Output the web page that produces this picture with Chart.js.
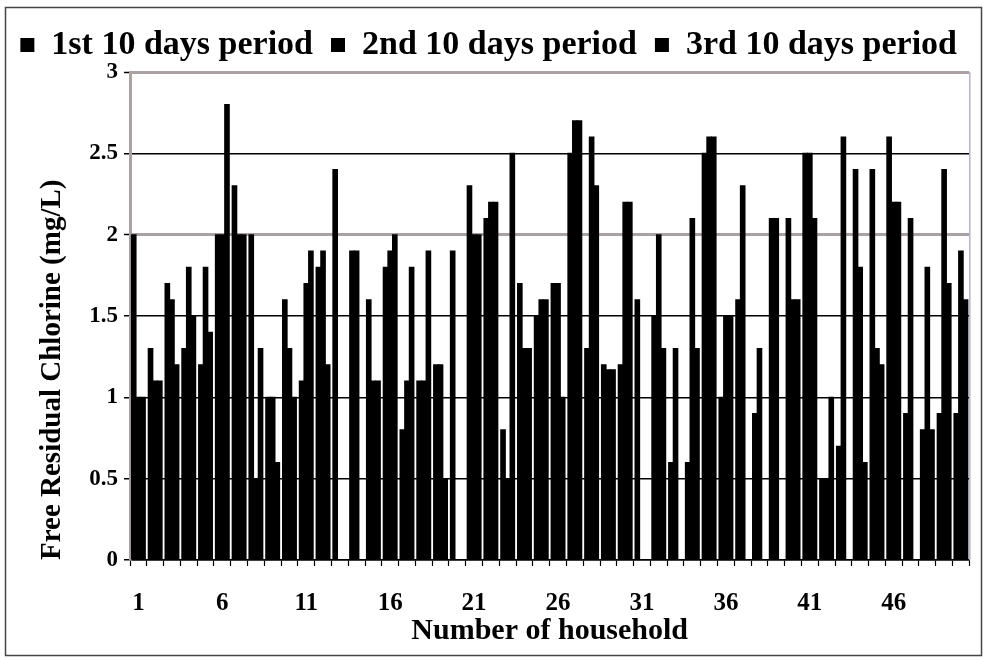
<!DOCTYPE html>
<html>
<head>
<meta charset="utf-8">
<title>Free Residual Chlorine by household</title>
<script src="https://cdn.jsdelivr.net/npm/chart.js@4.4.1/dist/chart.umd.min.js"></script>
<style>
  html, body { margin: 0; padding: 0; background: #fff; }
  #wrap { position: relative; width: 984px; height: 660px; }
  canvas { display: block; }
</style>
</head>
<body>
<div id="wrap"><canvas id="chart" width="984" height="660"></canvas></div>
<script>
// Household numbers along the x axis
const households = [
  '1','2','3','4','5','6','7','8','9','10',
  '11','12','13','14','15','16','17','18','19','20',
  '21','22','23','24','25','26','27','28','29','30',
  '31','32','33','34','35','36','37','38','39','40',
  '41','42','43','44','45','46','47','48','49','50'
];

// Household numbers that carry a visible tick label
const labelledHouseholds = ['1','6','11','16','21','26','31','36','41','46'];

// Free residual chlorine (mg/L), one value per household for each sampling period
const period1 = [
  2.0, 1.3, 1.7, 1.3, 1.2, 2.0, 2.3, 2.0, 1.0, 1.6,
  1.1, 1.8, 2.4, 1.9, 1.6, 1.8, 0.8, 1.1, 1.2, 1.9,
  2.3, 2.1, 0.8, 1.7, 1.5, 1.7, 2.5, 1.3, 1.2, 1.2,
  1.6, 1.5, 0.6, 0.6, 2.5, 1.0, 1.6, 0.9, 2.1, 2.1,
  2.5, 0.5, 0.7, 2.4, 2.4, 2.6, 0.9, 0.8, 0.9, 0.9
];
const period2 = [
  1.0, 1.1, 1.6, 1.8, 1.8, 2.0, 2.0, 0.5, 1.0, 1.3,
  1.7, 1.9, 0.0, 1.9, 1.1, 1.9, 1.1, 1.1, 1.2, 0.0,
  2.0, 2.2, 0.5, 1.3, 1.6, 1.7, 2.7, 2.6, 1.17, 2.2,
  0.0, 2.0, 1.3, 2.1, 2.6, 1.5, 2.3, 1.3, 2.1, 1.6,
  2.5, 0.5, 2.6, 1.8, 1.3, 2.2, 2.1, 1.8, 2.4, 1.9
];
const period3 = [
  1.0, 1.1, 1.2, 1.5, 1.4, 2.8, 2.0, 1.3, 0.6, 1.0,
  1.9, 1.2, 0.0, 0.0, 1.1, 2.0, 1.8, 1.9, 0.5, 0.0,
  2.0, 2.2, 2.5, 1.3, 1.6, 1.0, 2.7, 2.3, 1.17, 2.2,
  0.0, 1.3, 0.0, 1.3, 2.6, 1.5, 0.0, 0.0, 0.0, 1.6,
  2.1, 1.0, 0.0, 0.6, 1.2, 2.2, 0.0, 0.8, 1.7, 1.6
];

const periodNames = ['1st 10 days period', '2nd 10 days period', '3rd 10 days period'];

const SERIF = "'Liberation Serif', 'Times New Roman', serif";
const boldFont = size => ({ family: SERIF, weight: 'bold', size });

// The 2 mg/L and 3 mg/L lines are drawn as grey bands, the rest as thin black rules
const isGreyLine = ctx => ctx.tick && (ctx.tick.value === 2 || ctx.tick.value === 3);

// White page, outer frame and the right edge of the plot box
const framePlugin = {
  id: 'framePlugin',
  beforeDraw(chart) {
    const { ctx, width, height } = chart;
    ctx.save();
    ctx.fillStyle = '#ffffff';
    ctx.fillRect(0, 0, width, height);
    ctx.restore();
  },
  afterDraw(chart) {
    const { ctx, chartArea } = chart;
    ctx.save();
    ctx.strokeStyle = '#b7b3c9';
    ctx.lineWidth = 1.5;
    ctx.beginPath();
    ctx.moveTo(chartArea.right + 0.5, chartArea.top);
    ctx.lineTo(chartArea.right + 0.5, chartArea.bottom);
    ctx.stroke();
    ctx.strokeStyle = '#444444';
    ctx.lineWidth = 1.5;
    ctx.strokeRect(5.5, 7.5, 976, 648);
    ctx.restore();
  }
};

const makeSeries = (label, data) => ({
  label,
  data,
  backgroundColor: '#000000',
  borderWidth: 0,
  inflateAmount: 0.5,
  categoryPercentage: 0.83,
  barPercentage: 1.0
});

new Chart(document.getElementById('chart'), {
  type: 'bar',
  data: {
    labels: households,
    datasets: [
      makeSeries(periodNames[0], period1),
      makeSeries(periodNames[1], period2),
      makeSeries(periodNames[2], period3)
    ]
  },
  options: {
    responsive: false,
    devicePixelRatio: 1,
    animation: false,
    layout: { padding: { top: 10, right: 9, bottom: 0, left: 0 } },
    plugins: {
      tooltip: { enabled: false },
      legend: {
        position: 'top',
        align: 'end',
        labels: {
          color: '#000',
          font: boldFont(34),
          boxWidth: 14,
          boxHeight: 14,
          padding: 18
        }
      }
    },
    scales: {
      x: {
        ticks: {
          autoSkip: false,
          maxRotation: 0,
          minRotation: 0,
          padding: 23,
          color: '#000',
          font: boldFont(25),
          callback: function (value) {
            const lbl = this.getLabelForValue(value);
            return labelledHouseholds.includes(lbl) ? lbl : '';
          }
        },
        grid: {
          drawOnChartArea: false,
          offset: true,
          tickLength: 6,
          tickColor: '#000',
          tickWidth: 1.2
        },
        border: { color: '#000', width: 1.5 },
        title: {
          display: true,
          text: 'Number of household',
          color: '#000',
          font: boldFont(30),
          padding: { top: 0, bottom: 11 }
        },
        afterFit(scale) { scale.height = 100; }
      },
      y: {
        min: 0,
        max: 3,
        ticks: {
          stepSize: 0.5,
          padding: 6,
          color: '#000',
          font: boldFont(23),
          callback: value => String(value)
        },
        grid: {
          color: ctx => isGreyLine(ctx) ? '#aaa2a2' : '#000000',
          lineWidth: ctx => isGreyLine(ctx) ? 3 : 1.5,
          tickLength: 6,
          tickColor: '#000',
          tickWidth: 1.5
        },
        border: { color: '#aaa2a2', width: 3 },
        title: {
          display: true,
          text: 'Free Residual Chlorine (mg/L)',
          align: 'start',
          color: '#000',
          font: boldFont(29),
          padding: { top: 35, bottom: 0 }
        },
        afterFit(scale) { scale.width = 130; }
      }
    }
  },
  plugins: [framePlugin]
});
</script>
</body>
</html>
